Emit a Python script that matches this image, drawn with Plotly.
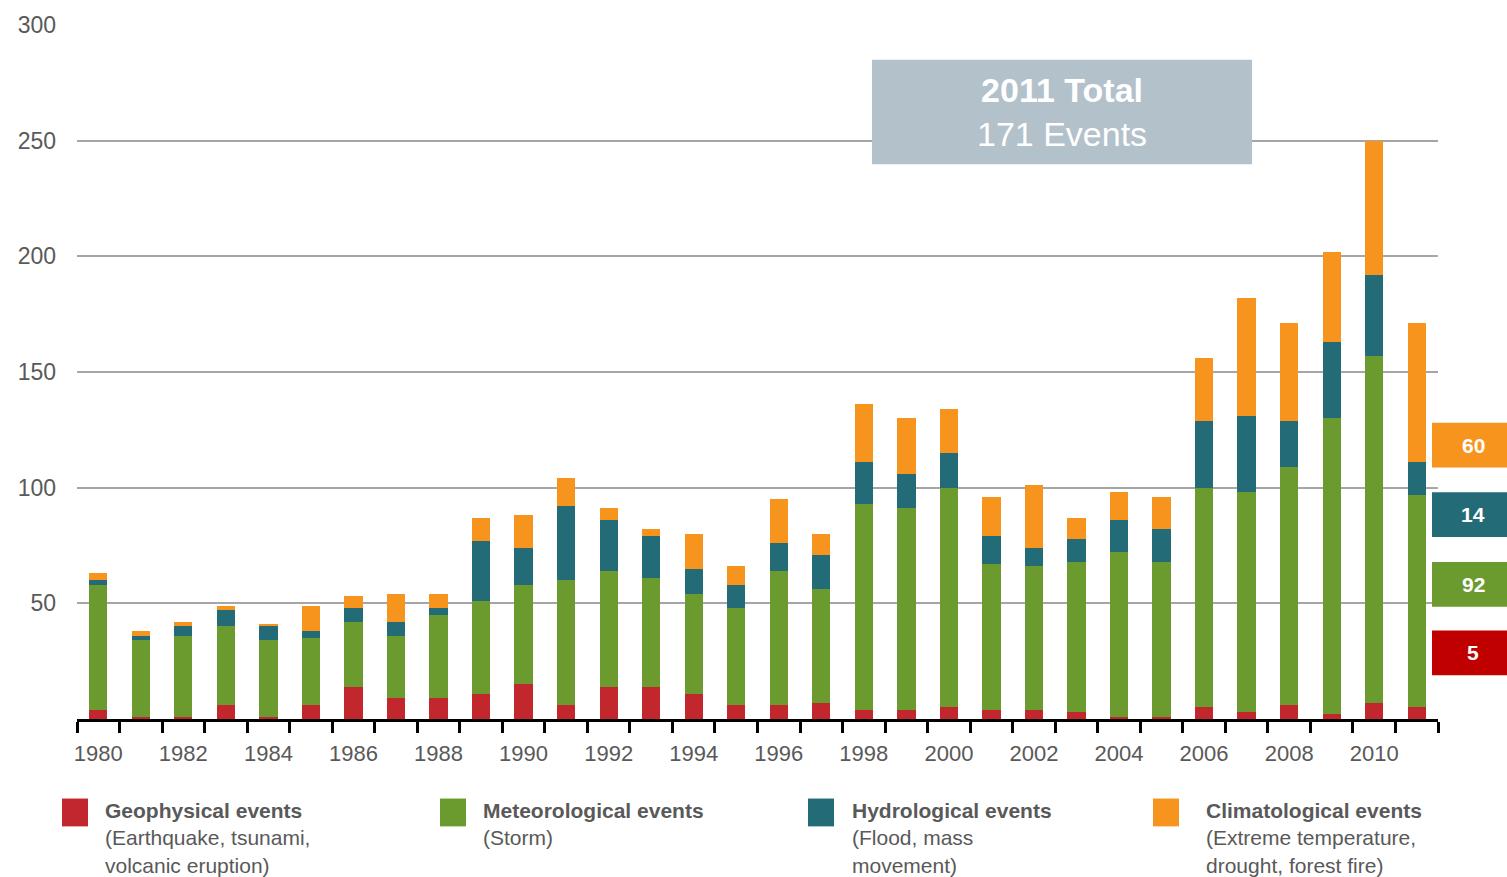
import plotly.graph_objects as go

years = list(range(1980, 2012))
geophysical = [4, 1, 1, 6, 1, 6, 14, 9, 9, 11, 15, 6, 14, 14, 11, 6, 6, 7, 4, 4, 5, 4, 4, 3, 1, 1, 5, 3, 6, 2, 7, 5]
meteorological = [54, 33, 35, 34, 33, 29, 28, 27, 36, 40, 43, 54, 50, 47, 43, 42, 58, 49, 89, 87, 95, 63, 62, 65, 71, 67, 95, 95, 103, 128, 150, 92]
hydrological = [2, 2, 4, 7, 6, 3, 6, 6, 3, 26, 16, 32, 22, 18, 11, 10, 12, 15, 18, 15, 15, 12, 8, 10, 14, 14, 29, 33, 20, 33, 35, 14]
climatological = [3, 2, 2, 2, 1, 11, 5, 12, 6, 10, 14, 12, 5, 3, 15, 8, 19, 9, 25, 24, 19, 17, 27, 9, 12, 14, 27, 51, 42, 39, 58, 60]

series_names = ["Geophysical events", "Meteorological events", "Hydrological events", "Climatological events"]
series_notes = ["(Earthquake, tsunami,<br>volcanic eruption)", "(Storm)", "(Flood, mass<br>movement)",
                "(Extreme temperature,<br>drought, forest fire)"]
series_colors = ["#c1272d", "#6b9a2e", "#246b78", "#f7941d"]
box_colors = ["#c00000", "#6b9a2e", "#246b78", "#f7941d"]
y_ticks = [50, 100, 150, 200, 250, 300]
x_labels = list(range(1980, 2012, 2))

series_values = [geophysical, meteorological, hydrological, climatological]
total_2011 = sum(s[-1] for s in series_values)

# layout pixel constants
W, H = 1507, 877
ML, MR, MT, MB = 77, 69, 21, 158
PW, PH = W - ML - MR, H - MT - MB


def px(x):
    return (x - ML) / PW


def py(y):
    return (H - MB - y) / PH


fig = go.Figure()
for name, vals, col in zip(series_names, series_values, series_colors):
    fig.add_trace(go.Bar(x=years, y=vals, name=name, marker=dict(color=col, line=dict(width=0)),
                         width=0.43, showlegend=False))

TEXT = "#595959"
FONT = "Liberation Sans, Arial, sans-serif"

shapes = []
annotations = []

# summary box
shapes.append(dict(type="rect", xref="paper", yref="paper", x0=px(872), x1=px(1252), y0=py(161), y1=py(56),
                   fillcolor="#b3c1ca", line=dict(width=0), layer="above"))
annotations.append(dict(xref="paper", yref="paper", x=(px(872) + px(1252)) / 2, y=(py(161) + py(56)) / 2,
                        text=f"<b>{years[-1]} Total</b><br>{total_2011} Events", showarrow=False,
                        font=dict(size=34, color="white", family=FONT), xanchor="center", yanchor="middle"))

# right-side value boxes for last year
box_tops = [630, 561, 491, 421]
for vals, col, top in zip(series_values, box_colors, box_tops):
    shapes.append(dict(type="rect", xref="paper", yref="paper", x0=px(1432), x1=px(1510), y0=py(top + 45),
                       y1=py(top), fillcolor=col, line=dict(width=0), layer="above"))
    annotations.append(dict(xref="paper", yref="paper", x=px(1473), y=py(top + 22.5), text=f"<b>{vals[-1]}</b>",
                            showarrow=False, font=dict(size=21, color="white", family=FONT),
                            xanchor="center", yanchor="middle"))

# custom legend
sq_x = [62, 440, 808, 1153]
tx_x = [103, 481, 850, 1204]
for name, note, col, sx, tx in zip(series_names, series_notes, series_colors, sq_x, tx_x):
    shapes.append(dict(type="rect", xref="paper", yref="paper", x0=px(sx), x1=px(sx + 26), y0=py(827),
                       y1=py(799), fillcolor=col, line=dict(width=0)))
    annotations.append(dict(xref="paper", yref="paper", x=px(tx), y=py(797), text=f"<b>{name}</b><br>{note}",
                            showarrow=False, align="left", xanchor="left", yanchor="top",
                            font=dict(size=21, color=TEXT, family=FONT)))

fig.update_layout(
    barmode="stack",
    width=W, height=H,
    margin=dict(l=ML, r=MR, t=MT, b=MB),
    plot_bgcolor="white", paper_bgcolor="white",
    font=dict(family=FONT, color=TEXT),
    shapes=shapes,
    annotations=annotations,
    bargap=0,
)
fig.update_xaxes(
    range=[years[0] - 0.5, years[-1] + 0.5],
    tickmode="array", tickvals=x_labels, ticktext=[str(v) for v in x_labels],
    ticks="", showgrid=False, zeroline=False,
    showline=True, linecolor="black", linewidth=3,
    tickfont=dict(size=22, color=TEXT, family=FONT),
    ticklabelstandoff=13,
    minor=dict(tickmode="array", tickvals=[y - 0.5 for y in years] + [years[-1] + 0.5],
               ticks="outside", ticklen=11, tickwidth=2.5, tickcolor="black", showgrid=False),
)
fig.update_yaxes(
    range=[0, 300], tickmode="array", tickvals=y_ticks,
    showgrid=True, gridcolor="#a6a6a6", gridwidth=2, zeroline=False, showline=False,
    ticks="", tickfont=dict(size=23, color=TEXT, family=FONT), ticklabelstandoff=20,
)

fig.write_html("out.html", config={"displayModeBar": False},
               post_script="document.body.style.margin='0';")
